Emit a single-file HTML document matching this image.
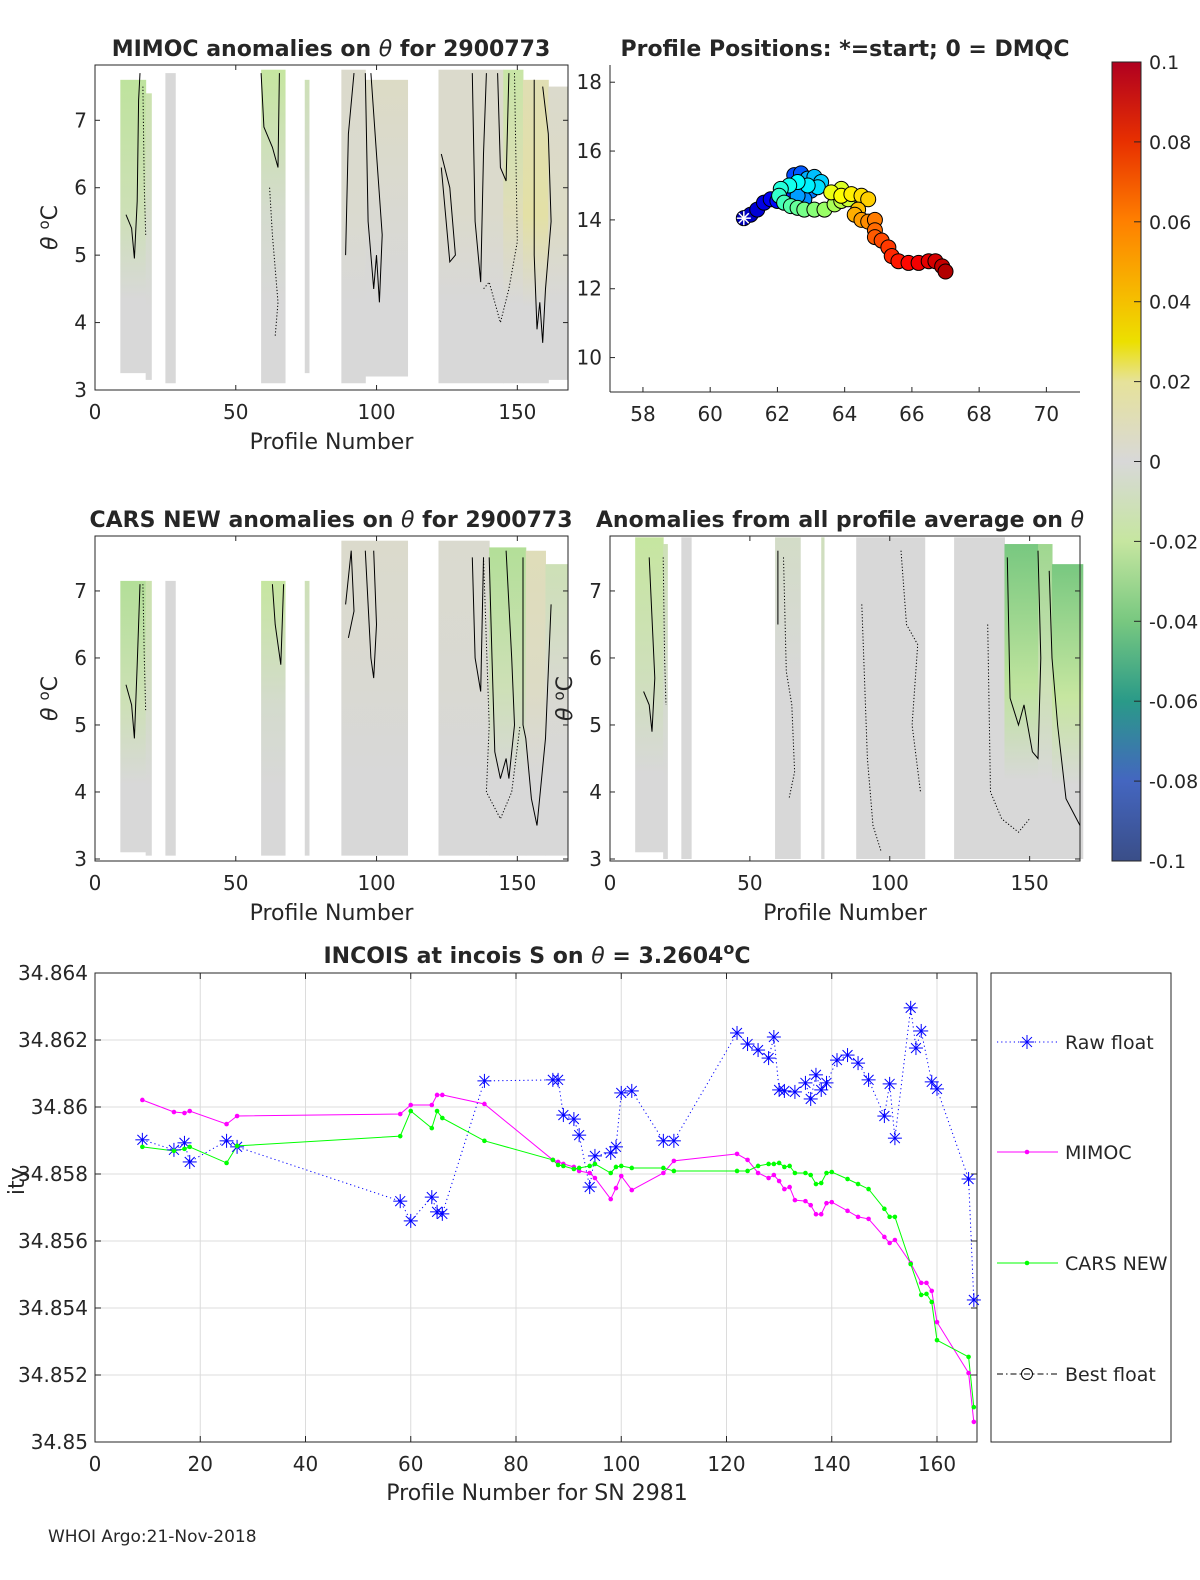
<!DOCTYPE html>
<html><head><meta charset="utf-8"><style>
body{margin:0;background:#fff}
svg text{font-family:"DejaVu Sans","Liberation Sans",sans-serif;fill:#262626}
</style></head><body>
<svg id="fig" width="1200" height="1575" viewBox="0 0 1200 1575" xmlns="http://www.w3.org/2000/svg">
<defs>
<linearGradient id="cbar" x1="0" y1="1" x2="0" y2="0">
<stop offset="0" stop-color="#3a4e88"/><stop offset="0.1" stop-color="#4466c0"/><stop offset="0.2" stop-color="#2a9a88"/><stop offset="0.3" stop-color="#78c880"/><stop offset="0.4" stop-color="#c6e6a0"/><stop offset="0.5" stop-color="#d8d8d8"/><stop offset="0.6" stop-color="#e6e29a"/><stop offset="0.65" stop-color="#ece000"/><stop offset="0.7" stop-color="#f5c000"/><stop offset="0.8" stop-color="#ff8000"/><stop offset="0.9" stop-color="#e83000"/><stop offset="1" stop-color="#b00020"/>
</linearGradient>
</defs>
<g id="root"></g>
</svg>
<script>
// ---------- bottom chart data ----------
const rawProfiles=[9,15,17,18,25,27,58,60,64,65,66,74,87,88,89,91,92,94,95,98,99,100,102,108,110,122,124,126,128,129,130,131,133,135,136,137,138,139,141,143,145,147,150,151,152,155,156,157,159,160,166,167];
const rawS=[34.85902,34.85872,34.85893,34.85836,34.85899,34.85881,34.85719,34.8566,34.85731,34.85687,34.85681,34.86078,34.86081,34.86081,34.85976,34.85964,34.85916,34.85761,34.85854,34.85863,34.85881,34.86042,34.86048,34.85899,34.85899,34.86221,34.86188,34.8617,34.86146,34.86209,34.86051,34.86048,34.86045,34.86072,34.86024,34.86096,34.86051,34.86072,34.8614,34.86155,34.86131,34.86081,34.85973,34.86069,34.85907,34.86296,34.86176,34.86227,34.86075,34.86054,34.85785,34.85424];
const modelProfiles=[9,15,17,18,25,27,58,60,64,65,66,74,87,88,89,91,92,94,95,98,99,100,102,108,110,122,124,126,128,129,130,131,132,133,135,136,137,138,139,140,143,145,147,150,151,152,155,157,158,159,160,166,167];
const mimocS=[34.86021,34.85985,34.85982,34.85988,34.85949,34.85973,34.85979,34.86006,34.86006,34.86036,34.86036,34.86009,34.85842,34.85836,34.8583,34.85821,34.85809,34.85803,34.85788,34.85725,34.85758,34.85794,34.85752,34.85803,34.85839,34.8586,34.85842,34.85803,34.85788,34.85797,34.85779,34.85755,34.85761,34.85722,34.85719,34.85707,34.8568,34.8568,34.85713,34.85716,34.8569,34.85672,34.85666,34.85612,34.85594,34.85603,34.85534,34.85475,34.85475,34.85451,34.85358,34.85206,34.8506];
const carsS=[34.85881,34.85869,34.85875,34.85881,34.85833,34.85884,34.85913,34.85988,34.85937,34.85988,34.85967,34.85899,34.85842,34.85827,34.85824,34.85815,34.85818,34.85824,34.8583,34.85803,34.85821,34.85824,34.85818,34.85818,34.85809,34.85809,34.85809,34.85824,34.8583,34.8583,34.85833,34.85821,34.85824,34.85803,34.85803,34.85797,34.8577,34.85773,34.85803,34.85806,34.85785,34.8577,34.85755,34.85696,34.85672,34.85672,34.85531,34.85439,34.85442,34.85418,34.85304,34.85254,34.85104];
const xTicks=[0,20,40,60,80,100,120,140,160];
const yTickLabels=["34.85","34.852","34.854","34.856","34.858","34.86","34.862","34.864"];
const yTicks=[34.85,34.852,34.854,34.856,34.858,34.86,34.862,34.864];
// ---------- position map data ----------
const mapLon=[61,61.2,61.4,61.6,61.8,62,62.2,62.4,62.6,62.5,62.7,62.9,63,62.8,62.6,62.9,63.1,63.3,63.2,62.9,62.6,62.35,62.1,62.05,62.2,62.4,62.6,62.8,63.1,63.4,63.7,63.9,64.1,63.9,63.6,63.9,64.2,64.5,64.7,64.4,64.3,64.5,64.7,64.9,64.9,64.9,65.1,65.3,65.4,65.6,65.9,66.2,66.5,66.7,66.9,67.0];
const mapLat=[14.05,14.15,14.3,14.5,14.6,14.55,14.5,14.8,15.0,15.3,15.35,15.2,14.85,14.6,14.7,15.2,15.25,15.1,14.95,15.0,15.1,15.0,14.9,14.7,14.5,14.4,14.35,14.3,14.3,14.3,14.45,14.55,14.6,14.9,14.8,14.7,14.75,14.7,14.6,14.3,14.15,14.0,13.95,14.0,13.7,13.5,13.4,13.2,12.95,12.8,12.75,12.75,12.8,12.8,12.65,12.5];
// ---------- section segments: [profileStart, profileEnd, thetaTop, thetaBottom, anomTop, anomMid] ----------
const mimocSeg=[[9,18,7.6,3.25,-0.022,-0.012],[18,20,7.4,3.15,-0.015,-0.005],[25,28.5,7.7,3.1,0,0],[59,67.5,7.75,3.1,-0.02,-0.004],[74.5,76,7.6,3.25,-0.012,0],[87.5,96,7.75,3.1,0.004,0.003],[96,111,7.6,3.2,0.006,0.002],[122,145,7.75,3.1,0.004,0.004],[145,152,7.75,3.1,-0.018,0.01],[152,161,7.6,3.1,0.012,0.016],[161,168,7.5,3.15,0.004,0.006]];
const carsSeg=[[9,18,7.15,3.1,-0.025,-0.012],[18,20,7.15,3.05,-0.015,-0.006],[25,28.5,7.15,3.05,0,0],[59,67.5,7.15,3.05,-0.02,-0.004],[74.5,76,7.15,3.05,-0.012,0],[87.5,111,7.75,3.05,0.004,0.002],[122,140,7.75,3.05,0.003,0.002],[140,153,7.65,3.05,-0.025,-0.012],[153,160,7.6,3.05,0.01,0.006],[160,168,7.4,3.05,-0.012,0.002]];
const avgSeg=[[9,19,7.8,3.1,-0.02,-0.01],[19,20.5,7.7,3.0,-0.012,-0.004],[25.5,29,7.8,3.0,0,0],[59,68,7.8,3.0,-0.006,0],[75.5,76.5,7.8,3.0,-0.01,0],[88,112.5,7.8,3.0,0,0],[123,141,7.8,3.0,0,0],[141,153,7.7,3.0,-0.04,-0.022],[153,158,7.7,3.0,-0.03,-0.012],[158,169,7.4,3.0,-0.04,-0.02]];
const colorbarTicks=[-0.1,-0.08,-0.06,-0.04,-0.02,0,0.02,0.04,0.06,0.08,0.1];
const colorbarLabels=["-0.1","-0.08","-0.06","-0.04","-0.02","0","0.02","0.04","0.06","0.08","0.1"];

const NS="http://www.w3.org/2000/svg";
const root=document.getElementById('root');
function mk(tag,attrs,parent,txt){const e=document.createElementNS(NS,tag);for(const k in attrs)e.setAttribute(k,attrs[k]);if(txt!==undefined)e.textContent=txt;(parent||root).appendChild(e);return e;}

function anomColor(a){
  const st=[[-0.1,[58,78,136]],[-0.08,[68,102,192]],[-0.06,[42,154,136]],[-0.04,[120,200,128]],[-0.02,[198,230,160]],[0,[216,216,216]],[0.02,[230,226,154]],[0.03,[236,224,0]],[0.04,[245,192,0]],[0.06,[255,128,0]],[0.08,[232,48,0]],[0.1,[176,0,32]]];
  a=Math.max(-0.1,Math.min(0.1,a));
  for(let i=0;i<st.length-1;i++){if(a<=st[i+1][0]){const t=(a-st[i][0])/(st[i+1][0]-st[i][0]);const c=st[i][1].map((v,j)=>Math.round(v+t*(st[i+1][1][j]-v)));return `rgb(${c})`;}}
  return 'rgb(176,0,32)';
}
function jet(t){const r=Math.min(Math.max(1.5-Math.abs(4*t-3),0),1),g=Math.min(Math.max(1.5-Math.abs(4*t-2),0),1),b=Math.min(Math.max(1.5-Math.abs(4*t-1),0),1);return `rgb(${Math.round(r*255)},${Math.round(g*255)},${Math.round(b*255)})`;}

let gid=0;
function section(name,L,T,R,B,pMax,thTop,thBot,segs,xlabel,title,titleX){
  const g=mk('g',{});
  
  
  const sx=p=>L+p*(R-L)/pMax, sy=t=>T+(thTop-t)*(B-T)/(thTop-thBot);
  segs.forEach((s,i)=>{
    const id='sg'+(gid++);
    const lg=mk('linearGradient',{id:id,x1:0,y1:0,x2:0,y2:1},document.querySelector('defs'));
    mk('stop',{offset:0,'stop-color':anomColor(s[4])},lg);
    mk('stop',{offset:0.45,'stop-color':anomColor(s[5])},lg);
    mk('stop',{offset:0.75,'stop-color':anomColor(0)},lg);
    mk('stop',{offset:1,'stop-color':anomColor(0)},lg);
    const r=mk('rect',{x:sx(s[0]),y:sy(s[2]),width:sx(s[1])-sx(s[0])+0.5,height:sy(s[3])-sy(s[2]),fill:`url(#${id})`},g);
    
    
  });
  mk('rect',{x:L,y:T,width:R-L,height:B-T,fill:'none',stroke:'#262626','stroke-width':1},g);
  [0,50,100,150].forEach(v=>{const x=sx(v);mk('line',{x1:x,y1:B,x2:x,y2:B-5,stroke:'#262626'},g);mk('line',{x1:x,y1:T,x2:x,y2:T+5,stroke:'#262626'},g);
    mk('text',{x:x,y:B+29,'font-size':20,'text-anchor':'middle'},g,String(v));});
  [3,4,5,6,7].forEach(v=>{const y=sy(v);mk('line',{x1:L,y1:y,x2:L+5,y2:y,stroke:'#262626'},g);mk('line',{x1:R,y1:y,x2:R-5,y2:y,stroke:'#262626'},g);
    mk('text',{x:L-8,y:y+7,'font-size':20,'text-anchor':'end'},g,String(v));});
  if(xlabel)mk('text',{x:(L+R)/2,y:B+59,'font-size':22,'text-anchor':'middle'},g,xlabel);
  const yl=mk('text',{x:0,y:0,'font-size':22,'text-anchor':'middle',transform:`translate(${L-38},${(T+B)/2}) rotate(-90)`},g);
  mk('tspan',{'font-style':'italic'},yl,'θ ');mk('tspan',{dy:-8,'font-size':15},yl,'o');mk('tspan',{dy:8},yl,'C');
  const t=mk('text',{x:titleX,y:T-9,'font-size':22,'font-weight':'bold','text-anchor':'middle'},g,'');
  title.forEach(p=>mk('tspan',p[1]?{'font-style':'italic','font-weight':'normal'}:{},t,p[0]));
  return {sx,sy,g};
}
function contour(ax,pts,dotted){
  const d=pts.map((p,i)=>(i?'L':'M')+ax.sx(p[0]).toFixed(1)+','+ax.sy(p[1]).toFixed(1)).join('');
  const e=mk('path',{d:d,fill:'none',stroke:'#000','stroke-width':1,'stroke-dasharray':dotted?'1.2,2':'none'},ax.g);
  
  
}

// Panel 1 MIMOC
const a1=section('mimoc-section',95,65,568,390,168,7.82,3.0,mimocSeg,'Profile Number',[['MIMOC anomalies on '],['θ',1],['  for 2900773']],331);
contour(a1,[[11,5.6],[13,5.4],[14,4.95],[15,5.8],[15.5,7.3],[16,7.7]],0);
contour(a1,[[17,7.5],[17.5,6.0],[18,5.3]],1);
contour(a1,[[59,7.7],[60,6.9],[63,6.6],[65,6.3],[65.5,7.7]],0);
contour(a1,[[62,6.0],[63,5.3],[65,4.3],[64,3.8]],1);
contour(a1,[[89,5.0],[90,6.8],[92,7.7]],0);
contour(a1,[[96,7.7],[97,5.5],[99,4.5],[100,5.0],[101,4.3],[102,5.3],[100,6.5],[98,7.7]],0);
contour(a1,[[123,6.5],[126,6.0],[128,5.0],[126,4.9],[123,6.3]],0);
contour(a1,[[134,7.7],[135,5.5],[137,4.6],[138,6.5],[139,7.7]],0);
contour(a1,[[143,7.7],[144,6.3],[146,6.1],[147,7.7]],0);
contour(a1,[[156,7.6],[156,5.0],[157,3.9],[158,4.3],[159,3.7],[160,4.5],[162,5.5],[161,6.8],[159,7.5]],0);
contour(a1,[[149,7.7],[150,5.2],[147,4.5],[144,4.0],[140,4.6],[138,4.5]],1);
// Panel 3 CARS
const a3=section('cars-section',95,536,568,861,168,7.82,2.97,carsSeg,'Profile Number',[['CARS NEW anomalies on '],['θ',1],[' for 2900773']],331);
contour(a3,[[11,5.6],[13,5.3],[14,4.8],[15,5.9],[16,7.1]],0);
contour(a3,[[17,7.1],[17.5,6.0],[18,5.2]],1);
contour(a3,[[63,7.1],[64,6.5],[66,5.9],[67,7.1]],0);
contour(a3,[[89,6.8],[91,7.6],[92,6.7],[90,6.3]],0);
contour(a3,[[96,7.6],[98,6.0],[99,5.7],[100,6.5],[99,7.6]],0);
contour(a3,[[134,7.5],[135,6.0],[137,5.5],[138,7.5]],0);
contour(a3,[[140,7.5],[141,6.0],[142,4.6],[144,4.2],[146,4.5],[147,4.2],[149,5.0],[148,6.0],[146,7.6]],0);
contour(a3,[[152,7.5],[152,5.0],[153,4.8],[155,3.9],[157,3.5],[160,4.8],[162,6.8]],0);
contour(a3,[[138,7.5],[140,5.0],[139,4.0],[144,3.6],[148,4.0],[151,5.0]],1);
// Panel 4 average
const a4=section('average-anomaly-section',610,536,1080,861,168,7.82,2.97,avgSeg,'Profile Number',[['Anomalies from all profile average on '],['θ',1]],840);
contour(a4,[[12,5.5],[14,5.3],[15,4.9],[16,5.7],[14,7.5]],0);
contour(a4,[[19,7.5],[19.5,6.0],[20,5.3]],1);
contour(a4,[[60,7.6],[60,6.5]],0);
contour(a4,[[62,7.5],[63,5.8],[65,5.3],[66,4.3],[64,3.9]],1);
contour(a4,[[90,6.8],[92,4.5],[94,3.5],[97,3.1]],1);
contour(a4,[[104,7.6],[106,6.5],[110,6.2],[108,5.0],[111,4.0]],1);
contour(a4,[[142,7.5],[143,5.4],[146,5.0],[148,5.3],[151,4.6],[153,4.5],[154,6.0],[153,7.6]],0);
contour(a4,[[157,7.3],[158,6.0],[160,5.0],[163,3.9],[168,3.5]],0);
contour(a4,[[135,6.5],[136,4.0],[140,3.6],[146,3.4],[150,3.6]],1);

// Panel 2 positions
(function(){
  const L=610,T=65,R=1080,B=392,x0=57.02,x1=71,y0=9,y1=18.5;
  const sx=v=>L+(v-x0)*(R-L)/(x1-x0), sy=v=>B-(v-y0)*(B-T)/(y1-y0);
  const g=mk('g',{});
  
  
  mk('line',{x1:L,y1:T,x2:L,y2:B,stroke:'#262626'},g);mk('line',{x1:L,y1:B,x2:R,y2:B,stroke:'#262626'},g);
  [58,60,62,64,66,68,70].forEach(v=>{mk('line',{x1:sx(v),y1:B,x2:sx(v),y2:B-5,stroke:'#262626'},g);mk('text',{x:sx(v),y:B+29,'font-size':20,'text-anchor':'middle'},g,String(v));});
  [10,12,14,16,18].forEach(v=>{mk('line',{x1:L,y1:sy(v),x2:L+5,y2:sy(v),stroke:'#262626'},g);mk('text',{x:L-8,y:sy(v)+7,'font-size':20,'text-anchor':'end'},g,String(v));});
  mapLon.forEach((lo,i)=>{const c=mk('circle',{cx:sx(lo),cy:sy(mapLat[i]),r:7.5,fill:jet(0.05+0.9*i/(mapLon.length-1)),stroke:'#000','stroke-width':1},g);
    
    });
  const cx=sx(mapLon[0]),cy=sy(mapLat[0]);
  [0,45,90,135].forEach(a=>{const r=a*Math.PI/180;mk('line',{x1:cx-7*Math.cos(r),y1:cy-7*Math.sin(r),x2:cx+7*Math.cos(r),y2:cy+7*Math.sin(r),stroke:'#fff','stroke-width':1.5},g);});
  mk('text',{x:845,y:56,'font-size':22,'font-weight':'bold','text-anchor':'middle'},g,'Profile Positions: *=start; 0 = DMQC');
})();

// Colorbar
(function(){
  const g=mk('g',{});
  
  
  const T=62,B=861;
  mk('rect',{x:1112,y:T,width:29,height:B-T,fill:'url(#cbar)',stroke:'#262626'},g);
  colorbarTicks.forEach((v,i)=>{const y=B-(v+0.1)/0.2*(B-T);
    mk('line',{x1:1134,y1:y,x2:1141,y2:y,stroke:'#262626'},g);
    mk('text',{x:1149,y:y+7,'font-size':19},g,colorbarLabels[i]);});
})();

// Bottom chart
(function(){
  const L=95,T=973,R=977,B=1442;
  const sx=p=>L+p*5.2625, sy=v=>T+(34.864-v)*33500;
  const g=mk('g',{});
  
  
  mk('text',{x:0,y:0,'font-size':22,'text-anchor':'middle',transform:`translate(24,1208) rotate(-90)`},g,'Salinity');
  mk('rect',{x:0,y:1195,width:88,height:60,fill:'#fff'},g);
  xTicks.forEach(v=>{const x=sx(v);mk('line',{x1:x,y1:T,x2:x,y2:B,stroke:'#dcdcdc'},g);mk('line',{x1:x,y1:B,x2:x,y2:B-6,stroke:'#262626'},g);mk('line',{x1:x,y1:T,x2:x,y2:T+6,stroke:'#262626'},g);
    mk('text',{x:x,y:B+29,'font-size':20,'text-anchor':'middle'},g,String(v));});
  yTicks.forEach((v,i)=>{const y=sy(v);mk('line',{x1:L,y1:y,x2:R,y2:y,stroke:'#dcdcdc'},g);mk('line',{x1:L,y1:y,x2:L+6,y2:y,stroke:'#262626'},g);mk('line',{x1:R,y1:y,x2:R-6,y2:y,stroke:'#262626'},g);
    mk('text',{x:L-7,y:y+7,'font-size':20,'text-anchor':'end'},g,yTickLabels[i]);});
  mk('rect',{x:L,y:T,width:R-L,height:B-T,fill:'none',stroke:'#262626'},g);
  const line=(xs,ys,col,dash,name)=>{const e=mk('polyline',{points:xs.map((p,i)=>sx(p).toFixed(1)+','+sy(ys[i]).toFixed(1)).join(' '),fill:'none',stroke:col,'stroke-width':1,'stroke-dasharray':dash},g);
    
    };
  line(rawProfiles,rawS,'#0000ff','1.2,3','raw-float-line');
  line(modelProfiles,mimocS,'#ff00ff','none','mimoc-line');
  line(modelProfiles,carsS,'#00ff00','none','cars-new-line');
  const star=(x,y)=>{[0,45,90,135].forEach(a=>{const r=a*Math.PI/180;mk('line',{x1:x-7*Math.cos(r),y1:y-7*Math.sin(r),x2:x+7*Math.cos(r),y2:y+7*Math.sin(r),stroke:'#0000ff','stroke-width':1},g);});};
  rawProfiles.forEach((p,i)=>star(sx(p),sy(rawS[i])));
  modelProfiles.forEach((p,i)=>{mk('circle',{cx:sx(p),cy:sy(mimocS[i]),r:2.3,fill:'#ff00ff'},g);mk('circle',{cx:sx(p),cy:sy(carsS[i]),r:2.3,fill:'#00ff00'},g);});
  const t=mk('text',{x:537,y:963,'font-size':22,'font-weight':'bold','text-anchor':'middle'},g,'INCOIS at incois S on ');
  mk('tspan',{'font-style':'italic','font-weight':'normal'},t,'θ');mk('tspan',{},t,' = 3.2604');mk('tspan',{dy:-9,'font-size':16},t,'o');mk('tspan',{dy:9},t,'C');
  mk('text',{x:537,y:1500,'font-size':22,'text-anchor':'middle'},g,'Profile Number for SN 2981');
  // legend
  const lg=mk('g',{});
  
  
  mk('rect',{x:991,y:973,width:180,height:469,fill:'#fff',stroke:'#262626'},lg);
  const ents=[['Raw float',1042,'#0000ff','1.2,3'],['MIMOC',1152,'#ff00ff','none'],['CARS NEW',1263,'#00ff00','none'],['Best float',1374,'#000','6,3,1.5,3']];
  ents.forEach(e=>{mk('line',{x1:997,y1:e[1],x2:1058,y2:e[1],stroke:e[2],'stroke-dasharray':e[3]},lg);
    mk('text',{x:1065,y:e[1]+7,'font-size':19},lg,e[0]);});
  [0,45,90,135].forEach(a=>{const r=a*Math.PI/180;mk('line',{x1:1027-7*Math.cos(r),y1:1042-7*Math.sin(r),x2:1027+7*Math.cos(r),y2:1042+7*Math.sin(r),stroke:'#0000ff'},lg);});
  mk('circle',{cx:1027,cy:1152,r:2.3,fill:'#ff00ff'},lg);mk('circle',{cx:1027,cy:1263,r:2.3,fill:'#00ff00'},lg);
  mk('circle',{cx:1027,cy:1374,r:5.5,fill:'none',stroke:'#000'},lg);
})();
mk('text',{x:48,y:1542,'font-size':17},root,'WHOI Argo:21-Nov-2018');
</script>
</body></html>
